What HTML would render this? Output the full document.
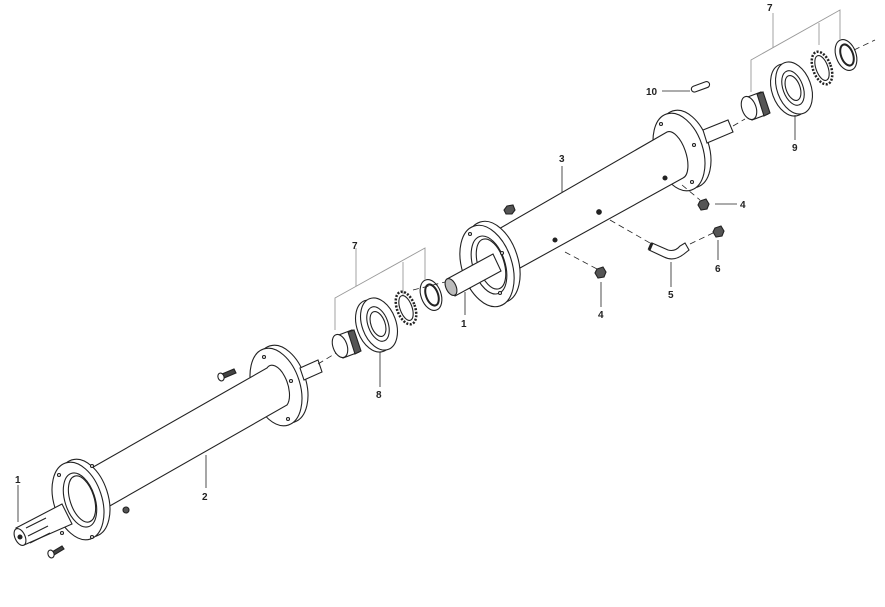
<!DOCTYPE html>
<html><head><meta charset="utf-8"><style>
html,body{margin:0;padding:0;background:#fff;}
svg{display:block;}
text{font-family:"Liberation Sans",sans-serif;font-size:10px;font-weight:bold;fill:#222;}
</style></head><body>
<svg width="885" height="607" viewBox="0 0 885 607" xmlns="http://www.w3.org/2000/svg">
<g fill="#fff" stroke="#222" stroke-width="1.1">
<!-- lower right flange (behind tube) -->
<ellipse cx="282" cy="384" rx="24" ry="40" transform="rotate(-18 282 384)"/>
<ellipse cx="276" cy="387" rx="24" ry="40" transform="rotate(-18 276 387)"/>
<circle cx="264" cy="357" r="1.5"/><circle cx="291" cy="381" r="1.5"/><circle cx="288" cy="419" r="1.5"/><circle cx="256" cy="413" r="1.5"/>
<path d="M300,368 L318,360 L322,372 L304,380 Z"/>
<!-- lower tube -->
<path d="M88,470 L267,368 A10,20 -18 0 1 287,405 L108,507 Z"/>
<!-- left lower flange (in front) -->
<ellipse cx="84" cy="498" rx="24" ry="40" transform="rotate(-18 84 498)"/>
<ellipse cx="78" cy="501" rx="24" ry="40" transform="rotate(-18 78 501)"/>
<ellipse cx="80" cy="500" rx="15" ry="28" transform="rotate(-18 80 500)"/>
<ellipse cx="82" cy="499" rx="12" ry="24" transform="rotate(-18 82 499)"/>
<circle cx="59" cy="475" r="1.5"/><circle cx="92" cy="466" r="1.5"/><circle cx="92" cy="537" r="1.5"/><circle cx="62" cy="533" r="1.5"/>
<!-- splined shaft -->
<path d="M16,528 L62,504 L72,524 L24,545 Z"/>
<ellipse cx="20" cy="537" rx="5" ry="9" transform="rotate(-25 20 537)"/>
<circle cx="20" cy="537" r="2" fill="#222"/>
<line x1="26" y1="528" x2="46" y2="518"/><line x1="28" y1="536" x2="48" y2="526"/><line x1="30" y1="543" x2="50" y2="533"/>
<!-- bolts -->
<path d="M222,374 L234,369 L236,373 L224,378 Z" fill="#444"/><ellipse cx="221" cy="377" rx="3" ry="4" transform="rotate(-20 221 377)"/>
<path d="M52,552 L62,546 L64,549 L54,555 Z" fill="#444"/><ellipse cx="51" cy="554" rx="3" ry="4" transform="rotate(-20 51 554)"/>
<!-- upper right flange -->
<ellipse cx="685" cy="149" rx="24" ry="40" transform="rotate(-18 685 149)"/>
<ellipse cx="679" cy="152" rx="24" ry="40" transform="rotate(-18 679 152)"/>
<circle cx="661" cy="124" r="1.5"/><circle cx="694" cy="145" r="1.5"/><circle cx="692" cy="182" r="1.5"/><circle cx="660" cy="176" r="1.5"/>
<path d="M703,130 L728,120 L733,132 L707,143 Z"/>
<!-- upper tube -->
<path d="M497,230 L667,132 A10,22 -18 0 1 683,178 L520,268 Z"/>
<!-- upper left flange -->
<ellipse cx="493" cy="262" rx="25" ry="42" transform="rotate(-18 493 262)"/>
<ellipse cx="487" cy="266" rx="25" ry="42" transform="rotate(-18 487 266)"/>
<ellipse cx="489" cy="265" rx="16" ry="30" transform="rotate(-18 489 265)"/>
<ellipse cx="491" cy="264" rx="13" ry="26" transform="rotate(-18 491 264)"/>
<circle cx="470" cy="234" r="1.5"/><circle cx="502" cy="253" r="1.5"/><circle cx="500" cy="293" r="1.5"/><circle cx="469" cy="287" r="1.5"/>
<!-- shaft out left of upper tube -->
<path d="M447,279 L493,254 L501,271 L455,296 Z"/>
<ellipse cx="451" cy="287" rx="5" ry="9" transform="rotate(-25 451 287)" fill="#bbb"/>
<circle cx="599" cy="212" r="2.3" fill="#222"/><circle cx="555" cy="240" r="2" fill="#222"/><circle cx="665" cy="178" r="2" fill="#222"/>
<polygon points="507,206 513,205 515,210 512,214 506,214 504,210" fill="#555"/>
<circle cx="126" cy="510" r="3" fill="#555"/>
<!-- bearing group lower -->
<path d="M336,336 L352,330 L359,352 L343,358 Z"/>
<path d="M348,332 L354,330 L361,351 L355,354 Z" fill="#555"/>
<ellipse cx="340" cy="346" rx="7" ry="12" transform="rotate(-20 340 346)"/>
<ellipse cx="374" cy="326" rx="17" ry="27" transform="rotate(-20 374 326)"/>
<ellipse cx="379" cy="324" rx="17" ry="27" transform="rotate(-20 379 324)"/>
<ellipse cx="378" cy="324" rx="10" ry="18" transform="rotate(-20 378 324)"/>
<ellipse cx="378" cy="324" rx="7" ry="13" transform="rotate(-20 378 324)"/>
<ellipse cx="406" cy="308" rx="9" ry="17" transform="rotate(-20 406 308)" stroke-dasharray="2 1.5" stroke-width="2.5"/>
<ellipse cx="406" cy="308" rx="6" ry="13" transform="rotate(-20 406 308)"/>
<ellipse cx="431" cy="295" rx="10" ry="16" transform="rotate(-20 431 295)"/>
<ellipse cx="432" cy="295" rx="6" ry="11" transform="rotate(-20 432 295)" stroke-width="2"/>
<!-- bearing group upper -->
<path d="M745,98 L761,92 L768,114 L752,120 Z"/>
<path d="M757,94 L763,92 L770,113 L764,116 Z" fill="#555"/>
<ellipse cx="749" cy="108" rx="7" ry="12" transform="rotate(-20 749 108)"/>
<ellipse cx="789" cy="90" rx="17" ry="27" transform="rotate(-20 789 90)"/>
<ellipse cx="794" cy="88" rx="17" ry="27" transform="rotate(-20 794 88)"/>
<ellipse cx="793" cy="88" rx="10" ry="18" transform="rotate(-20 793 88)"/>
<ellipse cx="793" cy="88" rx="7" ry="13" transform="rotate(-20 793 88)"/>
<ellipse cx="822" cy="68" rx="9" ry="17" transform="rotate(-20 822 68)" stroke-dasharray="2 1.5" stroke-width="2.5"/>
<ellipse cx="822" cy="68" rx="6" ry="13" transform="rotate(-20 822 68)"/>
<ellipse cx="846" cy="55" rx="10" ry="16" transform="rotate(-20 846 55)"/>
<ellipse cx="847" cy="55" rx="6" ry="11" transform="rotate(-20 847 55)" stroke-width="2"/>
<!-- key 10 -->
<rect x="691" y="84" width="19" height="6" rx="3" transform="rotate(-20 700 87)"/>
<!-- nuts -->
<polygon points="700,201 706,199 709,204 707,209 701,210 698,205" fill="#555"/>
<polygon points="597,269 603,267 606,272 604,277 598,278 595,273" fill="#555"/>
<polygon points="715,228 721,226 724,231 722,236 716,237 713,232" fill="#555"/>
<!-- pipe 5 -->
<path d="M652,243 L668,250 Q675,252 680,246 L685,243 L689,250 L684,254 Q674,262 664,257 L649,250 Z"/>
<line x1="652" y1="243" x2="649" y2="250" stroke-width="3"/>
</g>
<g stroke="#222" stroke-width="0.8" fill="none" stroke-dasharray="6 4">
<line x1="318" y1="364" x2="336" y2="353"/>
<line x1="733" y1="126" x2="745" y2="119"/>
<line x1="854" y1="50" x2="875" y2="40"/>
<line x1="413" y1="290" x2="445" y2="282"/>
<line x1="682" y1="185" x2="700" y2="200"/>
<line x1="565" y1="252" x2="597" y2="269"/>
<line x1="610" y1="220" x2="650" y2="243"/>
<line x1="690" y1="244" x2="713" y2="233"/>
</g>
<g stroke="#222" stroke-width="0.8" fill="none">
<line x1="18" y1="485" x2="18" y2="522"/>
<line x1="206" y1="455" x2="206" y2="488"/>
<line x1="562" y1="166" x2="562" y2="192"/>
<line x1="465" y1="292" x2="465" y2="315"/>
<line x1="380" y1="352" x2="380" y2="387"/>
<line x1="795" y1="115" x2="795" y2="140"/>
<line x1="662" y1="91" x2="690" y2="91"/>
<line x1="715" y1="204" x2="737" y2="204"/>
<line x1="601" y1="282" x2="601" y2="307"/>
<line x1="671" y1="262" x2="671" y2="287"/>
<line x1="718" y1="240" x2="718" y2="260"/>
</g>
<g stroke="#999" stroke-width="0.9" fill="none">
<polyline points="335,330 335,298 425,248 425,280"/><line x1="403" y1="262" x2="403" y2="295"/><line x1="356" y1="248" x2="356" y2="286"/>
<polyline points="751,92 751,60 840,10 840,40"/><line x1="819" y1="23" x2="819" y2="45"/><line x1="773" y1="13" x2="773" y2="48"/>
</g>
<text x="15" y="483">1</text>
<text x="202" y="500">2</text>
<text x="559" y="162">3</text>
<text x="461" y="327">1</text>
<text x="352" y="249">7</text>
<text x="767" y="11">7</text>
<text x="376" y="398">8</text>
<text x="792" y="151">9</text>
<text x="646" y="95">10</text>
<text x="740" y="208">4</text>
<text x="598" y="318">4</text>
<text x="668" y="298">5</text>
<text x="715" y="272">6</text>
</svg>
</body></html>
